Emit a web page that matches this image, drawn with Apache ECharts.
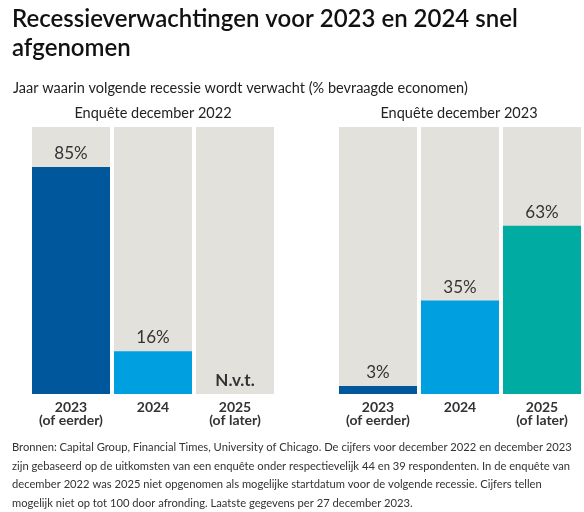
<!DOCTYPE html>
<html>
<head>
<meta charset="utf-8">
<script src="https://cdn.jsdelivr.net/npm/echarts@6/dist/echarts.min.js"></script>
<style>
html,body{margin:0;padding:0;background:#fff;}
#chart{width:584px;height:512px;}
</style>
</head>
<body>
<div id="chart"></div>
<script>
var categories = ['2023\n(of eerder)', '2024', '2025\n(of later)'];
var survey2022 = [85, 16, null];
var survey2023 = [3, 35, 63];
var barColors = ['#00579c', '#009fdf', '#00aba2'];
var panelTitles = ['Enquête december 2022', 'Enquête december 2023'];
var mainTitle = 'Recessieverwachtingen voor 2023 en 2024 snel\nafgenomen';
var subTitle = 'Jaar waarin volgende recessie wordt verwacht (% bevraagde economen)';
var footnote = 'Bronnen: Capital Group, Financial Times, University of Chicago. De cijfers voor december 2022 en december 2023\n' +
  'zijn gebaseerd op de uitkomsten van een enquête onder respectievelijk 44 en 39 respondenten. In de enquête van\n' +
  'december 2022 was 2025 niet opgenomen als mogelijke startdatum voor de volgende recessie. Cijfers tellen\n' +
  'mogelijk niet op tot 100 door afronding. Laatste gegevens per 27 december 2023.';
var naLabel = 'N.v.t.';

var FONT = 'Lato, "Noto Sans", sans-serif';

function buildData(values) {
  return values.map(function (v, i) {
    if (v === null) {
      return { value: 0, itemStyle: { color: barColors[i] }, label: { formatter: naLabel, fontWeight: 'bold' } };
    }
    return { value: v, itemStyle: { color: barColors[i] } };
  });
}

var chart = echarts.init(document.getElementById('chart'), null, { renderer: 'canvas' });

var grids = [
  { left: 30, width: 246, top: 127, height: 267 },
  { left: 337, width: 246, top: 127, height: 267 }
];

function xAxis(idx) {
  return {
    type: 'category', gridIndex: idx, data: categories,
    axisLine: { show: false }, axisTick: { show: false },
    axisLabel: { interval: 0, color: '#333', fontFamily: FONT, fontSize: 14, fontWeight: 'bold', lineHeight: 13, margin: 7 }
  };
}
function yAxis(idx) {
  return { type: 'value', gridIndex: idx, min: 0, max: 100, show: false, splitLine: { show: false } };
}
function series(idx, values) {
  return {
    type: 'bar', xAxisIndex: idx, yAxisIndex: idx, barWidth: 78,
    data: buildData(values),
    showBackground: true,
    backgroundStyle: { color: '#e3e1dc' },
    label: { show: true, position: 'top', distance: 5, formatter: '{c}%', color: '#333', fontFamily: FONT, fontSize: 17 },
    silent: true, animation: false
  };
}

chart.setOption({
  animation: false,
  title: [
    { text: mainTitle, left: 12, top: 5, padding: 0, textStyle: { fontFamily: FONT, fontSize: 24, fontWeight: 600, color: '#111', lineHeight: 29 } },
    { text: subTitle, left: 13, top: 81, padding: 0, textStyle: { fontFamily: FONT, fontSize: 14.5, fontWeight: 'normal', color: '#222' } },
    { text: panelTitles[0], left: 153, textAlign: 'center', top: 106, padding: 0, textStyle: { fontFamily: FONT, fontSize: 14.5, fontWeight: 'normal', color: '#222' } },
    { text: panelTitles[1], left: 459, textAlign: 'center', top: 106, padding: 0, textStyle: { fontFamily: FONT, fontSize: 14.5, fontWeight: 'normal', color: '#222' } },
    { text: footnote, left: 12, top: 438, padding: 0, textStyle: { fontFamily: FONT, fontSize: 11.2, fontWeight: 'normal', color: '#333', lineHeight: 18.7 } }
  ],
  grid: grids,
  xAxis: [xAxis(0), xAxis(1)],
  yAxis: [yAxis(0), yAxis(1)],
  series: [series(0, survey2022), series(1, survey2023)]
});
</script>
</body>
</html>
